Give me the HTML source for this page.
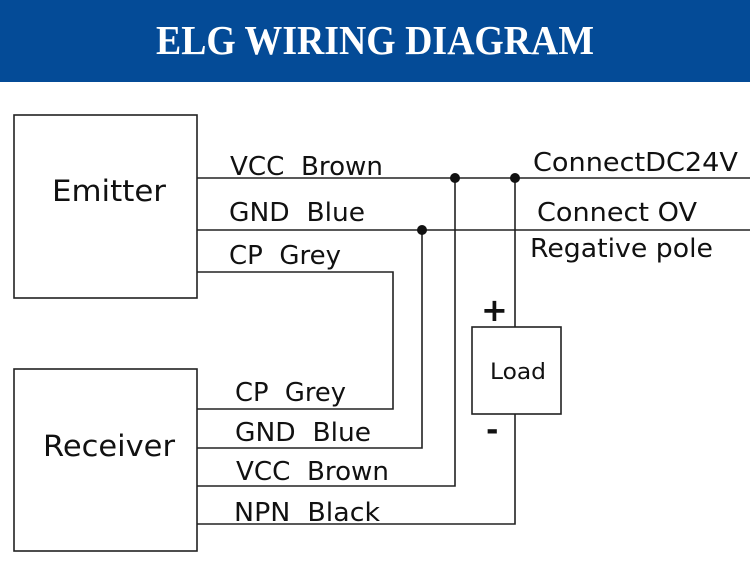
<!DOCTYPE html>
<html><head><meta charset="utf-8"><style>
html,body{margin:0;padding:0;background:#fff;}
svg{display:block;}
text{font-family:"DejaVu Sans","Liberation Sans",sans-serif;fill:#111;white-space:pre;}
</style></head><body>
<svg width="750" height="588" viewBox="0 0 750 588" xmlns="http://www.w3.org/2000/svg" xml:space="preserve">
<rect x="0" y="0" width="750" height="82" fill="#044b97"/>
<text x="375" y="54" text-anchor="middle" font-weight="bold" font-size="41" style="fill:#fff;font-family:'Liberation Serif',serif" textLength="438" lengthAdjust="spacingAndGlyphs">ELG WIRING DIAGRAM</text>
<g fill="none" stroke="#222" stroke-width="1.6">
<rect x="14" y="115" width="183" height="183"/>
<rect x="14" y="369" width="183" height="182"/>
<rect x="472" y="327" width="89" height="87"/>
<line x1="197" y1="178" x2="750" y2="178"/>
<line x1="197" y1="230" x2="750" y2="230"/>
<polyline points="197,272 393,272 393,409 197,409"/>
<polyline points="197,448 422,448 422,230"/>
<polyline points="197,486 455,486 455,178"/>
<polyline points="197,524 515,524 515,414"/>
<line x1="515" y1="327" x2="515" y2="178"/>
</g>
<g fill="#111">
<circle cx="455" cy="178" r="5"/>
<circle cx="515" cy="178" r="5"/>
<circle cx="422" cy="230" r="5"/>
</g>
<g font-size="25.5">
<text x="52" y="201" font-size="29" textLength="114" lengthAdjust="spacingAndGlyphs">Emitter</text>
<text x="43" y="456" font-size="29" textLength="132" lengthAdjust="spacingAndGlyphs">Receiver</text>
<text x="230" y="175" textLength="153" lengthAdjust="spacingAndGlyphs">VCC  Brown</text>
<text x="229" y="221" textLength="136" lengthAdjust="spacingAndGlyphs">GND  Blue</text>
<text x="229" y="264" textLength="112" lengthAdjust="spacingAndGlyphs">CP  Grey</text>
<text x="235" y="401" textLength="111" lengthAdjust="spacingAndGlyphs">CP  Grey</text>
<text x="235" y="441" textLength="136" lengthAdjust="spacingAndGlyphs">GND  Blue</text>
<text x="236" y="480" textLength="153" lengthAdjust="spacingAndGlyphs">VCC  Brown</text>
<text x="234" y="521" textLength="146" lengthAdjust="spacingAndGlyphs">NPN  Black</text>
<text x="533" y="171" textLength="205" lengthAdjust="spacingAndGlyphs">ConnectDC24V</text>
<text x="537" y="221" textLength="160" lengthAdjust="spacingAndGlyphs">Connect OV</text>
<text x="530" y="257" textLength="183" lengthAdjust="spacingAndGlyphs">Regative pole</text>
<text x="490" y="379" font-size="22" textLength="56" lengthAdjust="spacingAndGlyphs">Load</text>
<text x="481" y="321" font-size="32" font-weight="bold">+</text>
<text x="486" y="440" font-size="30" font-weight="bold">-</text>
</g>
</svg>
</body></html>
